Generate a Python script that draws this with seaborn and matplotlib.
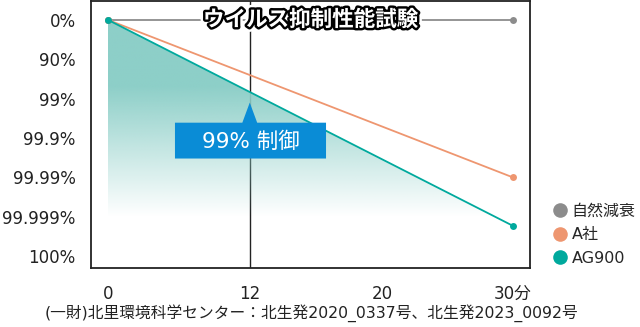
import numpy as np
import pandas as pd
import matplotlib
matplotlib.use("Agg")
import matplotlib.pyplot as plt
import matplotlib.patheffects as pe
from matplotlib.patches import Polygon
from matplotlib.lines import Line2D
import seaborn as sns

# ---- data ----
tick_minutes = [0, 12, 20, 30]
tick_labels_x = ["0", "12", "20", "30分"]
ytick_labels = ["0%", "90%", "99%", "99.9%", "99.99%", "99.999%", "100%"]
times = [0, 30]
series_names = ["自然減衰", "A社", "AG900"]
natural = [0, 0]          # log reduction
company_a = [0, 4.0]
ag900 = [0, 5.23]
colors = ["#8c8c8c", "#ee9670", "#00a99d"]

# layout positions of the x ticks (non-linear axis)
tick_pos = [0, 1.05, 2.03, 3.0]

sns.set_theme(style="white")
plt.rcParams["font.family"] = ["DejaVu Sans", "Noto Sans CJK JP"]

df = pd.DataFrame({
    "time": times * 3,
    "value": natural + company_a + ag900,
    "series": sum([[n] * len(times) for n in series_names], []),
})
df["xpos"] = np.interp(df["time"], tick_minutes, tick_pos)

fig = plt.figure(figsize=(6.4, 3.27), dpi=100)
ax = fig.add_axes([91 / 640, 1 - 268 / 327, (530 - 91) / 640, 267 / 327])

# vertical line at 12 min
x12 = np.interp(12, tick_minutes, tick_pos)
ax.axvline(x12, color="#222222", lw=1.0, zorder=1)

# gradient fill under AG900
ag_x = np.interp(times, tick_minutes, tick_pos)
poly = [(ag_x[0], ag900[0]), (ag_x[1], ag900[1]), (ag_x[1], 6.0), (ag_x[0], 6.0)]
ny = 300
vv = np.linspace(0, 6, ny)
alpha = np.clip((5.0 - vv) / 3.3, 0, 1)
alpha = np.where(vv < 1.7, 1.0, alpha)
rgba = np.zeros((ny, 2, 4))
base = matplotlib.colors.to_rgb("#8dcfc8")
rgba[..., 0] = base[0]
rgba[..., 1] = base[1]
rgba[..., 2] = base[2]
rgba[..., 3] = alpha[:, None]
im = ax.imshow(rgba, extent=(ag_x[0], ag_x[1], 6.0, 0.0), origin="upper",
               aspect="auto", zorder=2, interpolation="bilinear")
clip = Polygon(poly, closed=True, transform=ax.transData, facecolor="none", edgecolor="none")
ax.add_patch(clip)
im.set_clip_path(clip)

sns.lineplot(data=df, x="xpos", y="value", hue="series", palette=colors,
             hue_order=series_names, marker="o", markersize=5, markeredgewidth=0,
             linewidth=1.3, ax=ax, legend=False, zorder=3)

ax.set_xlim(-0.126, 3.126)
ax.set_ylim(6.30, -0.48)
ax.set_xticks(tick_pos)
ax.set_xticklabels(tick_labels_x)
ax.set_yticks(range(len(ytick_labels)))
ax.set_yticklabels(ytick_labels)
ax.tick_params(axis="both", length=0, labelsize=12, colors="#222222")
ax.tick_params(axis="y", pad=11)
ax.tick_params(axis="x", pad=12)
ax.set_xlabel("")
ax.set_ylabel("")
for s in ax.spines.values():
    s.set_color("#222222")
    s.set_linewidth(1.3)

# title
ax.text(1.5, 0.0, "ウイルス抑制性能試験", ha="center", va="center", fontsize=15.5,
        fontweight="bold", color="white", zorder=6,
        path_effects=[pe.Stroke(linewidth=7, foreground="white"),
                      pe.Stroke(linewidth=3.5, foreground="black"), pe.Normal()])

# callout
bx0, bx1, by0, by1 = 0.496, 1.615, 2.61, 3.52
cx, apex_y, hw = x12, 2.1, 0.055
callout = Polygon([(bx0, by0), (cx - hw, by0), (cx, apex_y), (cx + hw, by0),
                   (bx1, by0), (bx1, by1), (bx0, by1)], closed=True,
                  facecolor="#0a8cd6", edgecolor="none", zorder=5)
ax.add_patch(callout)
ax.text((bx0 + bx1) / 2, (by0 + by1) / 2 + 0.03, "99% 制御", ha="center", va="center",
        fontsize=15.5, color="white", zorder=6)

# legend
handles = [Line2D([], [], marker="o", linestyle="none", markersize=10.5, color=c,
                  markeredgewidth=0) for c in colors]
fig.legend(handles, series_names, loc="upper left", bbox_to_anchor=(550 / 640, 1 - 204 / 327),
           frameon=False, fontsize=11.5, handletextpad=0.15, labelspacing=0.52,
           handlelength=1.2, borderaxespad=0, borderpad=0)

fig.text(311 / 640, 1 - 313 / 327,
         "(一財)北里環境科学センター：北生発2020_0337号、北生発2023_0092号",
         ha="center", va="center", fontsize=11.3, color="#222222")

fig.savefig("out.png", dpi=100)
